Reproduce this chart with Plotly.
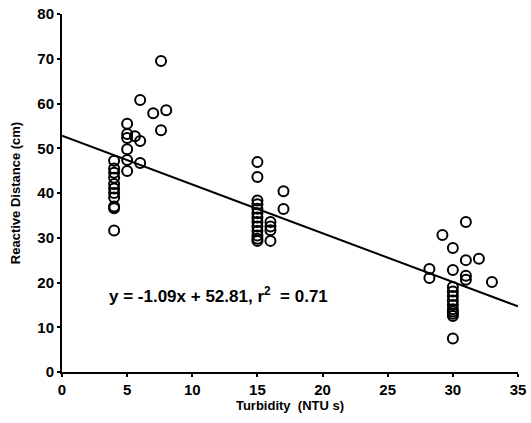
import plotly.graph_objects as go

# Data
turbidity = [4, 4, 4, 4, 4, 4, 4, 4, 4, 4, 4,
             5, 5, 5, 5, 5, 5, 5.6, 6, 6, 6, 7, 7.6, 7.6, 8,
             15, 15, 15, 15, 15, 15, 15, 15, 15, 15, 15, 15, 15,
             16, 16, 16, 16, 17, 17,
             28.2, 28.2, 29.2, 30, 30, 30, 30, 30, 30, 30, 30, 30, 30, 30, 30,
             31, 31, 31, 31, 32, 33]
distance = [47.2, 45.5, 44.5, 43.4, 42, 41, 40, 39, 37, 36.6, 31.6,
            55.5, 53.2, 52.3, 49.8, 44.9, 47.4, 52.7, 60.8, 51.6, 46.7, 57.8, 69.5, 54, 58.5,
            46.9, 43.6, 38.3, 37.5, 36.5, 35.5, 34.5, 33.5, 32.5, 31.5, 30.5, 29.8, 29.3,
            33.5, 31.7, 29.3, 32.5, 40.4, 36.4,
            23, 21, 30.6, 27.7, 22.8, 19, 18, 17, 16, 15, 14, 13.5, 13, 12.5, 7.5,
            33.5, 25, 21.5, 20.6, 25.3, 20.1]
slope = -1.09
intercept = 52.81
line_x = [0, 35]

x_ticks = [0, 5, 10, 15, 20, 25, 30, 35]
y_ticks = [0, 10, 20, 30, 40, 50, 60, 70, 80]
equation_text = "y = -1.09x + 52.81, r<sup>2</sup>  = 0.71"

line_y = [slope * v + intercept for v in line_x]

font_family = "Liberation Sans, Arial, sans-serif"

fig = go.Figure()
fig.add_trace(go.Scatter(x=line_x, y=line_y, mode="lines",
                         line=dict(color="black", width=2), showlegend=False,
                         cliponaxis=False))
fig.add_trace(go.Scatter(x=turbidity, y=distance, mode="markers",
                         marker=dict(symbol="circle-open", size=10, color="black",
                                     line=dict(width=2, color="black")),
                         showlegend=False, cliponaxis=False))

fig.add_annotation(x=12.0, y=17.2, xref="x", yref="y",
                   text=equation_text, showarrow=False,
                   font=dict(family=font_family, size=17, color="black",
                             weight="bold"))

axis_common = dict(showgrid=False, zeroline=False, showline=True,
                   linecolor="black", linewidth=2, ticks="outside",
                   ticklen=3, tickwidth=2, tickcolor="black", automargin=False,
                   ticklabeloverflow="allow",
                   tickfont=dict(family=font_family, size=15, color="black",
                                 weight="bold"))

fig.update_xaxes(range=[0, 35], tickvals=x_ticks,
                 title=dict(text="Turbidity  (NTU s)", standoff=4,
                            font=dict(family=font_family, size=13, color="black",
                                      weight="bold")),
                 **axis_common)
fig.update_yaxes(range=[0, 80], tickvals=y_ticks,
                 title=dict(text="Reactive Distance (cm)", standoff=14,
                            font=dict(family=font_family, size=13, color="black",
                                      weight="bold")),
                 **axis_common)

fig.update_layout(width=531, height=423,
                  margin=dict(l=62, r=13, t=14, b=51),
                  plot_bgcolor="white", paper_bgcolor="white",
                  font=dict(family=font_family, color="black"))

fig.write_html("out.html", config={"displayModeBar": False},
               post_script="document.body.style.margin='0';document.body.style.overflow='hidden';")
